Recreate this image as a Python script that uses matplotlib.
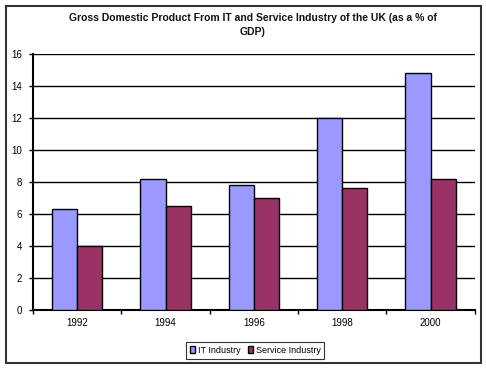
from matplotlib import pyplot as plt
from matplotlib.patches import Rectangle
import numpy as np

years = ['1992', '1994', '1996', '1998', '2000']
it_industry = [6.3, 8.2, 7.8, 12.0, 14.8]
service_industry = [4.0, 6.5, 7.0, 7.6, 8.2]

plt.rcParams['font.family'] = ['Liberation Sans', 'DejaVu Sans']

fig = plt.figure(figsize=(4.86, 3.69), dpi=100)
ax = fig.add_axes([0.068, 0.160, 0.909, 0.694])

x = np.arange(len(years))
w = 0.285
ax.bar(x - w / 2, it_industry, w, color='#9999FF', edgecolor='black', linewidth=1.0,
       label='IT Industry', zorder=3)
ax.bar(x + w / 2, service_industry, w, color='#993366', edgecolor='black', linewidth=1.0,
       label='Service Industry', zorder=3)

ax.set_xlim(-0.5, len(years) - 0.5)
ax.set_ylim(0, 16)
ax.set_yticks(range(0, 17, 2))
ax.yaxis.grid(True, color='black', linewidth=1.0, zorder=0)
ax.set_axisbelow(True)

# category labels centred, tick marks between categories
ax.set_xticks(x)
ax.set_xticklabels(years)
ax.tick_params(axis='x', length=0, labelsize=7, pad=6)
ax.set_xticks(np.arange(-0.5, len(years)), minor=True)
ax.tick_params(axis='x', which='minor', length=3, width=1, direction='out')
ax.tick_params(axis='y', labelsize=7, length=3, width=1, direction='out', pad=5)

for s in ['top', 'right']:
    ax.spines[s].set_visible(False)
ax.spines['left'].set_linewidth(1.5)
ax.spines['bottom'].set_linewidth(1.5)

fig.text(0.52, 0.965, 'Gross Domestic Product From IT and Service Industry of the UK (as a % of\nGDP)',
         ha='center', va='top', fontsize=7.5, fontweight='bold', linespacing=1.5,
         color='#111111')

leg = ax.legend(loc='center', bbox_to_anchor=(0.525, 0.05), bbox_transform=fig.transFigure,
                ncol=2, fontsize=6.5, frameon=True, fancybox=False, handlelength=0.6,
                handleheight=0.8, handletextpad=0.3, columnspacing=0.8, borderpad=0.4)
leg.get_frame().set_edgecolor('black')
leg.get_frame().set_linewidth(0.8)

fig.patches.append(Rectangle((0.012, 0.015), 0.978, 0.97, transform=fig.transFigure,
                             fill=False, edgecolor='#333333', linewidth=1.5))

fig.savefig('out.png', dpi=100)
